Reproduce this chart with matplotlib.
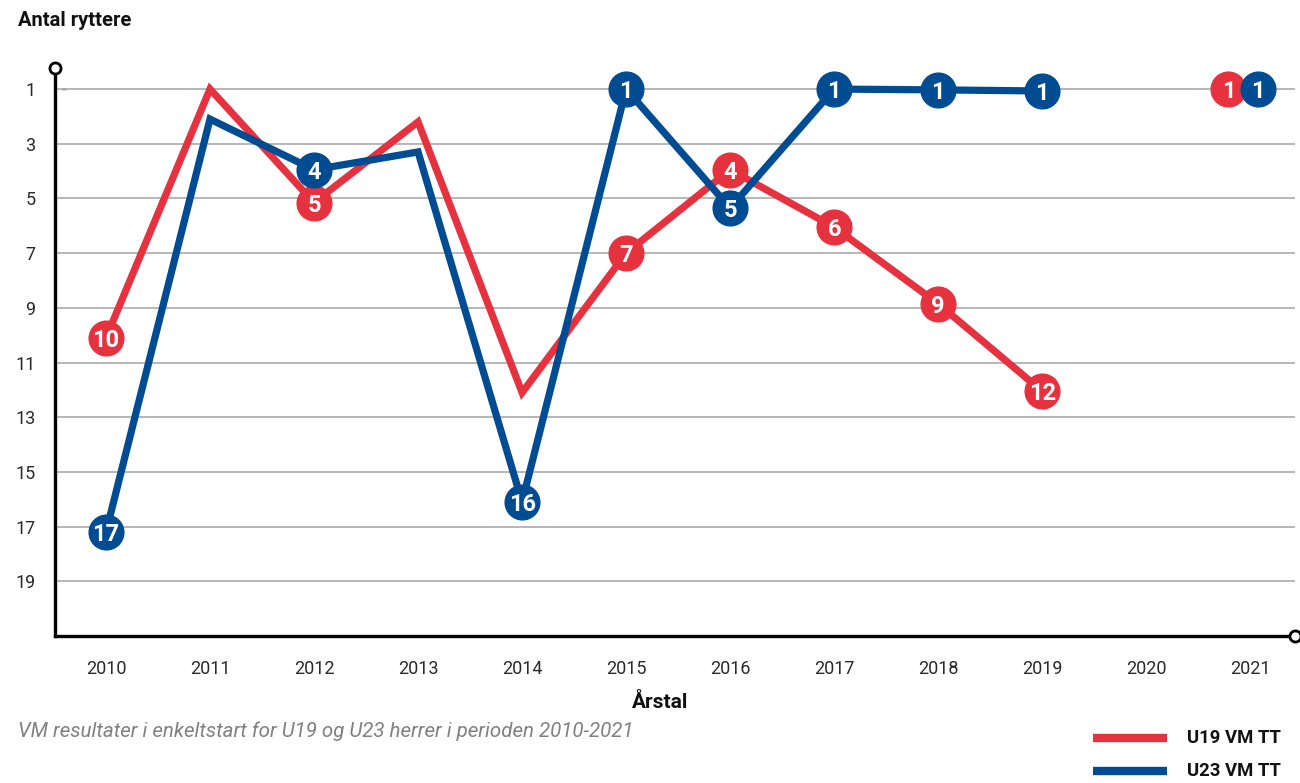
import numpy as np
import matplotlib
matplotlib.use("Agg")
import matplotlib.pyplot as plt

# ---- data ----
years = [2010, 2011, 2012, 2013, 2014, 2015, 2016, 2017, 2018, 2019, 2020, 2021]
u19_pos = [10.1, 1.0, 5.15, 2.2, 12.1, 7.0, 3.95, 6.05, 8.85, 12.05, np.nan, 1.0]
u23_pos = [17.2, 2.1, 3.95, 3.3, 16.1, 1.0, 5.35, 1.0, 1.03, 1.07, np.nan, 1.0]
u19_labels = ["10", None, "5", None, None, "7", "4", "6", "9", "12", None, "1"]
u23_labels = ["17", None, "4", None, "16", "1", "5", "1", "1", "1", None, "1"]
y_ticks = [1, 3, 5, 7, 9, 11, 13, 15, 17, 19]
series_names = ["U19 VM TT", "U23 VM TT"]

RED = "#E6323F"
BLUE = "#004C93"

plt.rcParams['font.family'] = ['Roboto', 'DejaVu Sans']

fig = plt.figure(figsize=(13, 7.83), dpi=100)
ax = fig.add_axes([55/1300, 1-636/783, 1240/1300, (636-68)/783])
ax.set_xlim(2009.51, 2021.43)
ax.set_ylim(21.0, 0.23)

for s in ax.spines.values():
    s.set_visible(False)
ax.spines['left'].set_visible(True)
ax.spines['bottom'].set_visible(True)
ax.spines['left'].set_linewidth(2.4)
ax.spines['bottom'].set_linewidth(2.4)

ax.set_yticks(y_ticks)
ax.set_yticklabels([str(t) for t in y_ticks])
ax.set_xticks(years)
ax.set_xticklabels([str(y) for y in years])
ax.tick_params(axis='y', length=0, pad=14, labelsize=13, labelcolor="#2a2a2a")
ax.tick_params(axis='x', length=0, pad=17, labelsize=13, labelcolor="#2a2a2a")
ax.grid(axis='y', color="#AAAAAA", linewidth=1.2)
ax.set_axisbelow(True)

# axis end circles
ax.plot([0], [1], transform=ax.transAxes, marker='o', ms=8, mfc='white', mec='black',
        mew=2, clip_on=False, zorder=10)
ax.plot([1], [0], transform=ax.transAxes, marker='o', ms=8, mfc='white', mec='black',
        mew=2, clip_on=False, zorder=10)

def draw(pos, labels, color, z, xoff_last):
    yrs = np.array(years, dtype=float)
    p = np.array(pos, dtype=float)
    # main line (up to 2019)
    ax.plot(yrs[:10], p[:10], color=color, lw=5.2, solid_joinstyle='miter', zorder=z)
    xs = yrs.copy()
    xs[-1] = xs[-1] + xoff_last
    for x, y, lab in zip(xs, p, labels):
        if lab is None:
            continue
        ax.plot([x], [y], marker='o', ms=25, color=color, mec=color, zorder=z + 1,
                clip_on=False)
        ax.text(x, y, lab, ha='center', va='center_baseline', color='white',
                fontsize=17, fontweight='bold', zorder=z + 2)

draw(u19_pos, u19_labels, RED, 3, -0.21)
draw(u23_pos, u23_labels, BLUE, 6, 0.07)

ax.text(2009.58, 1.1, "**", color="#999999", fontsize=5, ha='left', va='center')

# texts
fig.text(18/1300, 1-20/783, "Antal ryttere", fontsize=14.5, fontweight='bold',
         ha='left', va='center', color="#111111")
fig.text(660/1300, 1-702/783, "Årstal", fontsize=15, fontweight='bold',
         ha='center', va='center', color="#111111")
fig.text(18/1300, 1-731/783,
         "VM resultater i enkeltstart for U19 og U23 herrer i perioden 2010-2021",
         fontsize=14.8, fontstyle='italic', ha='left', va='center',
         color="#808080")

# legend
for yy, col, name in [(738, RED, series_names[0]), (771, BLUE, series_names[1])]:
    fig.add_artist(plt.Line2D([1093/1300, 1167/1300], [1-yy/783, 1-yy/783],
                              color=col, lw=6, solid_capstyle='butt'))
    fig.text(1187/1300, 1-yy/783, name, fontsize=13.3, fontweight='bold',
             ha='left', va='center', color="#111111")

fig.savefig("out.png", dpi=100)
